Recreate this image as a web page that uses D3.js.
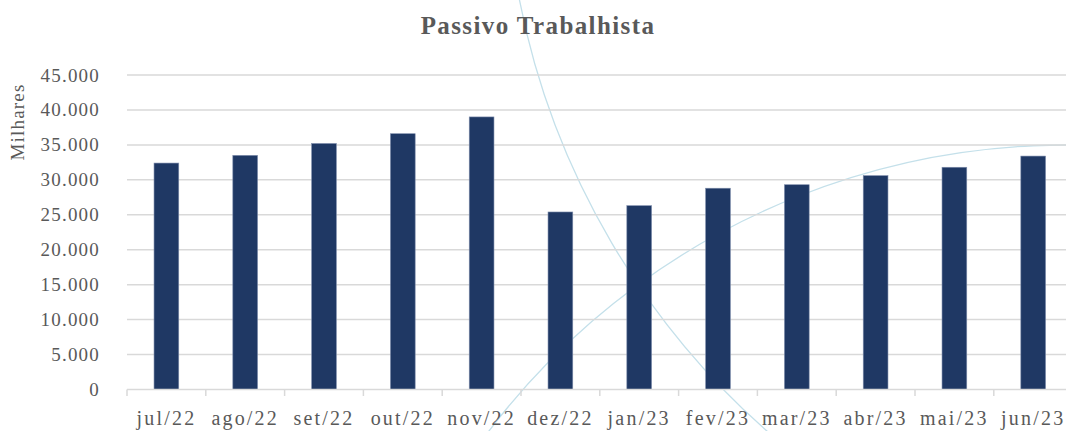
<!DOCTYPE html>
<html>
<head>
<meta charset="utf-8">
<script src="https://cdn.jsdelivr.net/npm/d3@7"></script>
<style>
  body { margin: 0; background: #fff; }
  svg { display: block; }
  text { font-family: "Liberation Serif", "Times New Roman", serif; fill: #595959; }
</style>
</head>
<body>
<div id="chart"></div>
<script>
const months = ["jul/22", "ago/22", "set/22", "out/22", "nov/22", "dez/22",
                "jan/23", "fev/23", "mar/23", "abr/23", "mai/23", "jun/23"];
const passivo = [32400, 33500, 35200, 36600, 39000, 25400,
                 26300, 28800, 29300, 30600, 31800, 33400];
const yTicks = [0, 5000, 10000, 15000, 20000, 25000, 30000, 35000, 40000, 45000];

const width = 1066, height = 431;
const ptBR = d3.formatLocale({decimal: ",", thousands: ".", grouping: [3], currency: ["R$", ""]});
const fmt = ptBR.format(",");

const svg = d3.select("#chart").append("svg").attr("width", width).attr("height", height);

const x = d3.scaleBand().domain(months).range([127, 127 + 12 * 78.8])
    .paddingInner(0.686).paddingOuter(0.343);
const y = d3.scaleLinear().domain([0, 45000]).range([389.5, 75]);

// decorative arcs in the background
const deco = svg.append("g").attr("fill", "none").attr("stroke", "#c4e0ea").attr("stroke-width", 1.3);
const p1 = d3.path();
p1.arc(1278, -149, 773, 2.22, 3.0);
deco.append("path").attr("d", p1.toString());
const p2 = d3.path();
p2.arc(1066, 870, 725, -2.6, -1.3);
deco.append("path").attr("d", p2.toString());

// gridlines
svg.append("g").selectAll("line").data(yTicks.slice(1)).enter().append("line")
    .attr("x1", 127).attr("x2", width)
    .attr("y1", d => y(d)).attr("y2", d => y(d))
    .attr("stroke", "#d9d9d9").attr("stroke-width", 1.5);

// y labels
svg.append("g").selectAll("text").data(yTicks).enter().append("text")
    .attr("x", 100).attr("y", d => y(d) + 6.5)
    .attr("text-anchor", "end")
    .style("font-size", "19px").style("letter-spacing", "1.2px")
    .text(d => fmt(d));

// bars
svg.append("g").selectAll("rect").data(passivo).enter().append("rect")
    .attr("x", (d, i) => x(months[i]))
    .attr("y", d => y(d))
    .attr("width", x.bandwidth())
    .attr("height", d => y(0) - y(d))
    .attr("fill", "#1f3864")
    .attr("stroke", "#7d8cab").attr("stroke-width", 0.6);

// x axis
const xAxis = svg.append("g").attr("transform", "translate(0," + y(0) + ")")
    .call(d3.axisBottom(x).tickSize(0).tickPadding(0));
xAxis.select(".domain").remove();
xAxis.selectAll("text").attr("y", 35).attr("dy", null)
    .style("font-size", "20px").style("letter-spacing", "2.2px")
    .style("font-family", "'Liberation Serif', serif").attr("fill", "#595959");
svg.append("line").attr("x1", 127).attr("x2", width).attr("y1", y(0)).attr("y2", y(0))
    .attr("stroke", "#d9d9d9").attr("stroke-width", 1.5);
const step = x.step();
svg.append("g").selectAll("line").data(d3.range(months.length + 1)).enter().append("line")
    .attr("x1", i => 127 + i * step).attr("x2", i => 127 + i * step)
    .attr("y1", y(0)).attr("y2", y(0) + 6.5)
    .attr("stroke", "#d9d9d9").attr("stroke-width", 1.5);

// title
svg.append("text").attr("x", 538).attr("y", 34).attr("text-anchor", "middle")
    .style("font-size", "25px").style("font-weight", "bold").style("letter-spacing", "1.4px")
    .text("Passivo Trabalhista");

// y axis title
svg.append("text").attr("transform", "translate(24,122) rotate(-90)")
    .attr("text-anchor", "middle")
    .style("font-size", "19px").style("letter-spacing", "1.2px")
    .text("Milhares");
</script>
</body>
</html>
